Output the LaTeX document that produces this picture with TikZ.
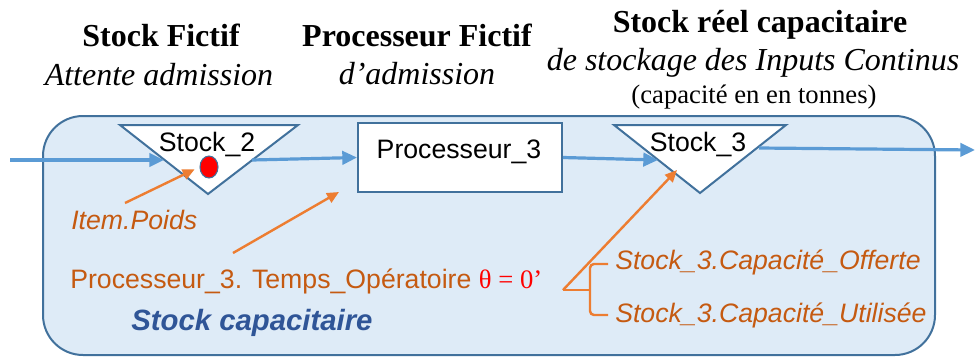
\documentclass[tikz,border=0pt]{standalone}
\usepackage{fontspec}
\setmainfont{Liberation Serif}
\newfontfamily\arial{Liberation Sans}
\usetikzlibrary{arrows.meta,shapes.geometric}
\definecolor{zonefill}{HTML}{DEEBF7}
\definecolor{zoneline}{HTML}{41719C}
\definecolor{flowblue}{HTML}{5B9BD5}
\definecolor{infoorange}{HTML}{ED7D31}
\definecolor{noteorange}{HTML}{C55A11}
\definecolor{titleblue}{HTML}{2F5597}

\begin{document}
\begin{tikzpicture}[x=0.75pt, y=-0.75pt,
		flow/.style={line width=2.4pt, color=flowblue, -{Triangle[length=11pt, width=10pt]}},
		info/.style={line width=1.8pt, color=infoorange, -{Triangle[length=9pt, width=8pt]}},
		shapeline/.style={line width=1.5pt, draw=zoneline, fill=white, line join=miter},
		lbl/.style={font=\arial\fontsize{20}{24}\selectfont, anchor=base, inner sep=0pt},
		note/.style={font=\arial\fontsize{20}{24}\selectfont, text=noteorange, anchor=base west, inner sep=0pt},
		head/.style={font=\fontsize{24}{28}\selectfont, anchor=base, inner sep=0pt}]
		%%%%% START %%%%%
		
		\useasboundingbox (0, 0) rectangle (975, 358);
		
		\draw[line width=1.5pt, draw=zoneline, fill=zonefill, rounded corners=30pt] (43, 116) rectangle (935, 355);
		
		% titres
		\node[head] (hstock2) at (161, 46) {\bfseries Stock Fictif};
		\node[head] (hstock2sub) at (159, 85) {\itshape Attente admission};
		\node[head] (hproc3) at (417, 46) {\bfseries Processeur Fictif};
		\node[head] (hproc3sub) at (417, 84) {\itshape d’admission};
		\node[head] (hstock3) at (760, 32) {\bfseries Stock réel capacitaire};
		\node[head] (hstock3sub) at (753, 70) {\itshape de stockage des Inputs Continus};
		\node[head, font=\fontsize{20}{24}\selectfont] (hstock3cap) at (754, 103) {(capacité en en tonnes)};
		
		% stocks et processeur
		\draw[shapeline] (120, 125) -- (298, 125) -- (208, 194) -- cycle;
		\draw[shapeline] (614, 125) -- (786, 125) -- (700, 193) -- cycle;
		\node[shapeline, minimum width=153pt, minimum height=51.75pt] (proc3) at (460, 157.5) {};
		
		\node[lbl] (st2txt) at (207, 151) {Stock\_2};
		\node[lbl] (proc3txt) at (459, 158) {Processeur\_3};
		\node[lbl] (st3txt) at (698, 151) {Stock\_3};
		
		\node[ellipse, draw=zoneline, line width=0.8pt, fill=red, minimum width=13.5pt, minimum height=16.5pt, inner sep=0pt] (item) at (209, 167) {};
		
		% flux
		\coordinate (inflow) at (10, 160);
		\coordinate (st2in) at (164, 160);
		\coordinate (st2out) at (252, 160);
		\coordinate (st3in) at (658, 160);
		\coordinate (st3out) at (759, 148);
		\coordinate (outflow) at (975, 150);
		
		\draw[flow] (inflow) -- (st2in);
		\draw[flow] (st2out) -- (proc3.west);
		\draw[flow] (proc3.east) -- (st3in);
		\draw[flow] (st3out) -- (outflow);
		
		% attributs
		\node[note] (poids) at (71, 229) {\itshape Item.Poids};
		\node[note] (temps) at (70, 288) {Processeur\_3. Temps\_Opératoire \textcolor{red}{\rmfamily θ = 0’}};
		\node[note] (offre) at (615, 269) {\itshape Stock\_3.Capacité\_Offerte};
		\node[note] (util) at (615, 322) {\itshape Stock\_3.Capacité\_Utilisée};
		\node[anchor=base west, inner sep=0pt, text=titleblue, font=\arial\bfseries\itshape\fontsize{22}{26}\selectfont] (zonetitle) at (131, 330) {Stock capacitaire};
		
		\coordinate (poidsfrom) at (125, 203);
		\coordinate (tempsfrom) at (233, 253);
		\coordinate (procpt) at (339, 192);
		\coordinate (bracetip) at (563, 290);
		\coordinate (capapt) at (677, 170);
		
		\draw[info, shorten >=4pt] (poidsfrom) -- (item.west);
		\draw[info] (tempsfrom) -- (procpt);
		\draw[info] (bracetip) -- (capapt);
		\draw[line width=1.8pt, color=infoorange, rounded corners=3pt] (608, 264) -- (590, 264) -- (590, 315) -- (608, 315);
		\draw[line width=1.8pt, color=infoorange] (bracetip) -- (590, 290);
		
		%%%%% END %%%%%
	\end{tikzpicture}
\end{document}
